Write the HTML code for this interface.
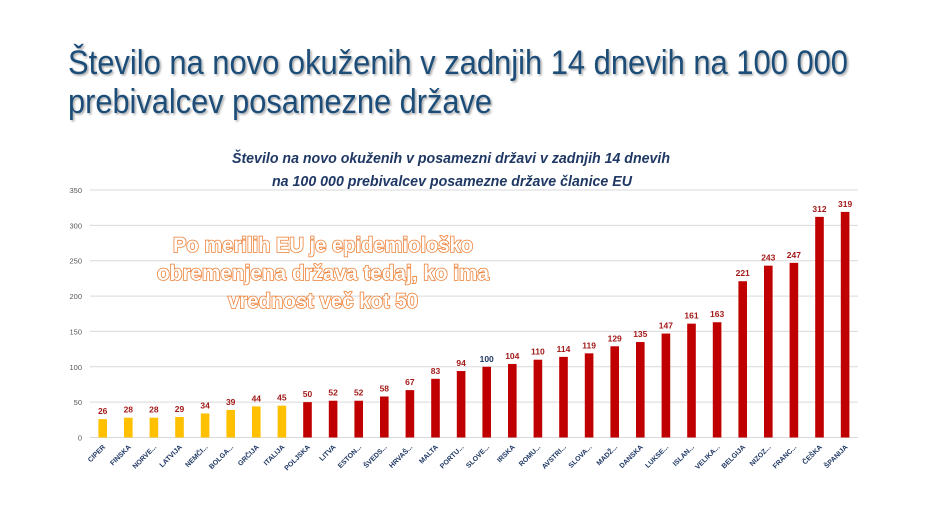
<!DOCTYPE html>
<html><head><meta charset="utf-8"><style>
html,body{margin:0;padding:0;background:#fff;width:940px;height:529px;overflow:hidden}
svg{display:block}
</style></head><body>
<svg width="940" height="529" xmlns="http://www.w3.org/2000/svg" font-family="Liberation Sans, sans-serif">
<defs><filter id="sh"><feDropShadow dx="1.5" dy="1.5" stdDeviation="1" flood-color="#000" flood-opacity="0.35"/></filter></defs>
<g fill="#1f4e79" font-size="34" filter="url(#sh)">
<text x="68" y="74" textLength="780" lengthAdjust="spacingAndGlyphs">Število na novo okuženih v zadnjih 14 dnevih na 100 000</text>
<text x="68" y="113" textLength="424" lengthAdjust="spacingAndGlyphs">prebivalcev posamezne države</text>
</g>
<g fill="#1f3864" font-size="14.5" font-weight="bold" font-style="italic" text-anchor="middle">
<text x="451" y="163" textLength="438" lengthAdjust="spacingAndGlyphs">Število na novo okuženih v posamezni državi v zadnjih 14 dnevih</text>
<text x="452" y="186" textLength="360" lengthAdjust="spacingAndGlyphs">na 100 000 prebivalcev posamezne države članice EU</text>
</g>
<g id="grid" stroke="#d9d9d9" stroke-width="1"></g>
<g id="bars"></g>
<g fill="none" stroke="#ed7d31" stroke-width="1.6" font-size="21" font-weight="bold" text-anchor="middle" paint-order="stroke">
<text x="323" y="252" fill="#fff" textLength="300" lengthAdjust="spacingAndGlyphs">Po merilih EU je epidemiološko</text>
<text x="323" y="280" fill="#fff" textLength="332" lengthAdjust="spacingAndGlyphs">obremenjena država tedaj, ko ima</text>
<text x="323" y="308" fill="#fff" textLength="190" lengthAdjust="spacingAndGlyphs">vrednost več kot 50</text>
</g>
</svg>
<script>
const ns="http://www.w3.org/2000/svg";
const g=document.getElementById('grid'),b=document.getElementById('bars');
function el(t,a,p,txt){const e=document.createElementNS(ns,t);for(const k in a)e.setAttribute(k,a[k]);if(txt!==undefined)e.textContent=txt;p.appendChild(e);return e;}
const y0=437.5,k=247.5/350;
for(let v=0;v<=350;v+=50){const y=y0-v*k;el('line',{x1:90,x2:858,y1:y,y2:y},g);el('text',{x:82,y:y+3,'font-size':7.5,fill:'#595959','text-anchor':'end',stroke:'none'},g,v);}
const d=[["CIPER",26],["FINSKA",28],["NORVE...",28],["LATVIJA",29],["NEMČI...",34],["BOLGA...",39],["GRČIJA",44],["ITALIJA",45],["POLJSKA",50],["LITVA",52],["ESTON...",52],["ŠVEDS...",58],["HRVAŠ...",67],["MALTA",83],["PORTU...",94],["SLOVE...",100],["IRSKA",104],["ROMU...",110],["AVSTRI...",114],["SLOVA...",119],["MADŽ...",129],["DANSKA",135],["LUKSE...",147],["ISLAN...",161],["VELIKA...",163],["BELGIJA",221],["NIZOZ...",243],["FRANC...",247],["ČEŠKA",312],["ŠPANIJA",319]];
d.forEach((r,i)=>{const cx=102.7+i*25.6,h=r[1]*k;
const col=i<8?'#ffc000':'#c00000';
el('rect',{x:cx-4.3,y:y0-h,width:8.6,height:h,fill:col},b);
el('text',{x:cx,y:y0-h-5,'font-size':8.5,'font-weight':'bold',fill:i==15?'#1f3864':'#a31a1a','text-anchor':'middle'},b,r[1]);
el('text',{x:0,y:0,'font-size':7,'font-weight':'bold',fill:'#1f3864','text-anchor':'end',transform:`translate(${cx+3},${y0+10}) rotate(-45)`},b,r[0]);
});
</script>
</body></html>
